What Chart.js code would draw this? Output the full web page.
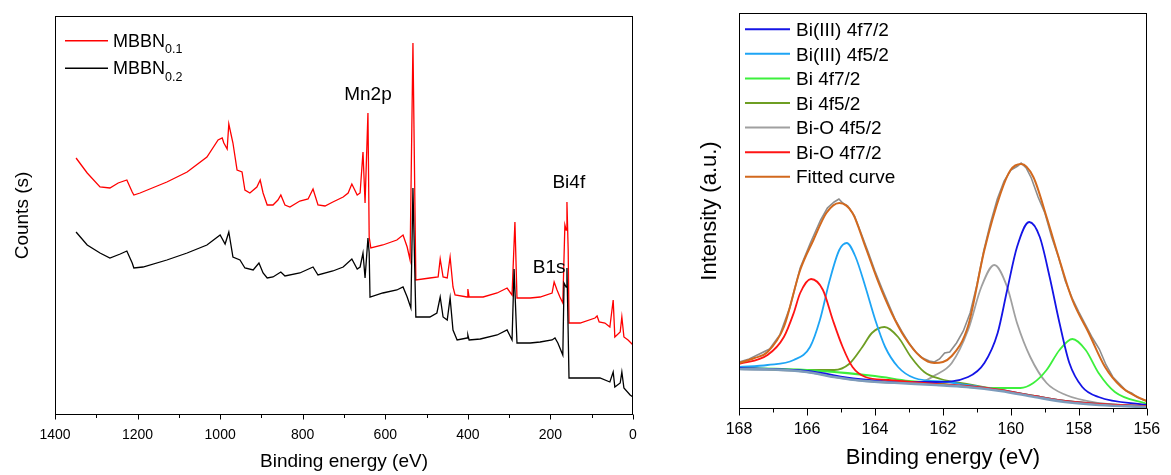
<!DOCTYPE html>
<html>
<head>
<meta charset="utf-8">
<script src="https://cdn.jsdelivr.net/npm/chart.js@4.4.1/dist/chart.umd.min.js"></script>
<style>
html,body{margin:0;padding:0;background:#fff;}
#wrap{position:relative;width:1171px;height:475px;overflow:hidden;}
#survey{position:absolute;left:0;top:0;}
#bi4f{position:absolute;left:660px;top:0;}
</style>
</head>
<body>
<div id="wrap">
  <canvas id="survey" width="660" height="475"></canvas>
  <canvas id="bi4f" width="511" height="475"></canvas>
</div>
<script>
// ── survey spectra (binding energy eV / counts, arbitrary units) ──
const e01=[1349,1322,1291,1267,1247,1226,1213,1209,1194,1129,1080,1032,1005,995,991,983,979,969,959,947,940,928,911,903,896,886,872,860,853,843,831,807,787,775,763,746,727,702,690,681,668,661,654,649,642,639,635,606,572,557,547,540,533,526,492,472,467,460,450,443,436,431,402,400,397,363,329,305,293,286,281,249,225,196,191,184,177,170,165,162,160,157,155,128,92,87,82,68,56,48,44,31,27,22,12,0];
const c01=[257,242,228,227,232,235,223,220,222,233,243,258,275,277,272,266,291,272,245,243,225,222,228,235,222,210,210,215,220,210,208,214,216,226,210,209,213,218,222,231,220,222,263,212,302,178,167,170,175,180,168,155,372,135,137,138,156,138,137,158,128,120,118,126,118,118,122,127,120,193,117,117,118,122,133,125,118,112,190,185,213,165,92,92,97,99,93,92,88,115,78,83,98,78,75,70];
const e02=[1349,1322,1291,1267,1242,1226,1213,1209,1187,1129,1080,1032,1000,988,979,969,952,940,920,906,896,886,872,853,843,807,775,763,727,702,681,668,661,654,649,642,639,637,606,572,557,547,538,533,526,492,475,467,460,450,443,436,426,402,400,397,370,329,305,293,288,281,249,225,196,189,182,170,167,162,160,157,155,111,80,56,48,44,31,27,22,7,0];
const c02=[183,170,162,157,161,164,152,147,148,155,162,170,180,171,183,158,155,147,145,152,142,137,138,143,139,142,148,140,144,148,156,146,148,162,137,177,162,118,122,125,128,118,107,227,98,98,102,118,98,95,117,85,75,77,80,75,76,80,85,75,146,72,72,73,75,77,72,60,132,128,147,82,37,37,37,33,43,28,32,43,27,20,18];
const sampleNames=['MBBN','MBBN'];
const sampleSubs=['0.1','0.2'];
const peakNames=['Mn2p','Bi4f','B1s'];
const peakE=[642,155.5,203];
const peakC=[320,232,147.6];

// ── Bi 4f high resolution (binding energy eV / intensity a.u.) ──
const rawE=[168,167.7,167.4,167.1,166.8,166.5,166.2,165.9,165.6,165.4,165.2,165.06,164.95,164.8,164.6,164.4,164.2,164.0,163.8,163.6,163.4,163.2,163.0,162.8,162.6,162.4,162.25,162.1,161.95,161.8,161.6,161.4,161.2,161.0,160.8,160.6,160.4,160.2,160.0,159.8,159.7,159.55,159.4,159.2,159.0,158.8,158.6,158.4,158.2,158.0,157.8,157.6,157.4,157.2,157.0,156.8,156.6,156.45,156.3,156.1,156];
const rawI=[47,50,55,60,74,102,141,166,189,201,207,210,206,203,193,175,157,138,121,105,89,77,66,57,51,48,47,50,56,57,66,78,96,124,158,186,210,228,239,243,246,241,231,212,196,172,152,128,111,97,84,71,60,44,32,25,18,16,12,9,8];
const bgE=[168,167,166,165.2,164.3,163.3,162.2,161.3,160.3,159.3,158.4,157.4,156];
const bgI=[40,39.5,37,32,28,26,24,22,18,12,7,4,2];
const bi3f72E=[168,166,164.5,163,162.22,161.26,160.78,160.39,160.11,159.82,159.46,159.15,158.86,158.57,158.28,157.9,157.42,156];
const bi3f72I=[41,38,30,27,27,32,46,76,119,162,187,172,132,86,46,22,12,4];
const bi3f52E=[168,167.16,166.39,165.91,165.62,165.33,165.05,164.83,164.57,164.28,163.99,163.7,163.32,162.84,161.88,161.3,160.3,159.3,158.4,157.4,156];
const bi3f52I=[42,44,49,62,89,129,159,166,152,122,89,62,42,31,27,24,19,13,8,5,3];
const bi0f72E=[168,166,164,163,162.22,161.26,160.3,159.72,159.34,158.95,158.57,158.19,157.8,157.42,156.94,156];
const bi0f72I=[41,39,33,28,26,22,21,21,26,39,59,70,59,36,17,5];
const bi0f52E=[168,166.2,165.2,164.76,164.37,164.09,163.72,163.32,162.94,162.55,162.07,161.3,160.3,159.3,158.4,157.4,156];
const bi0f52I=[41,39,39,45,62,76,82,72,52,37,30,25,19,13,8,5,3];
const biOf52E=[168,166,165,164,163.3,162.75,162.22,161.74,161.26,160.87,160.49,160.11,159.82,159.43,158.95,158.38,157.42,156];
const biOf52I=[40,37,31,27,26,26,34,46,79,122,144,122,86,52,26,14,6,2];
const biOf72E=[168,167.16,166.68,166.39,166.2,165.88,165.53,165.24,164.95,164.66,164.28,163.61,162.94,162.2,161.3,160.3,159.3,158.4,157.4,156];
const biOf72I=[45,54,72,96,116,130,119,89,62,42,32,29,27,25,23,19,13,8,5,3];
const fitE=[168,167.54,167.16,166.68,166.2,165.81,165.43,165.05,164.66,164.28,163.89,163.51,163.13,162.65,162.26,161.74,161.26,160.78,160.3,160.01,159.7,159.34,158.95,158.57,158.19,157.71,157.23,156.75,156.08,156];
const fitI=[46,51,57,82,139,169,196,206,196,162,126,96,72,52,46,53,83,159,216,239,245,232,192,149,109,76,42,22,9,8];

Chart.defaults.font.family="'Liberation Sans', Arial, sans-serif";
Chart.defaults.color='#000';

const pts=(xs,ys)=>xs.map((x,i)=>({x:x,y:ys[i]}));

// frame round the plot + major/minor tick marks on the x axis
const frameTicks={
  id:'frameTicks',
  afterDraw(chart,args,o){
    const {ctx,chartArea:a}=chart;const xs=chart.scales.x;
    ctx.save();
    ctx.strokeStyle='#000';ctx.lineWidth=1;
    const l=Math.round(a.left)+0.5,t=Math.round(a.top)+0.5,r=Math.round(a.right)-0.5,b=Math.round(a.bottom)-0.5;
    ctx.strokeRect(l,t,r-l,b-t);
    xs.ticks.forEach(tk=>{
      const px=Math.round(xs.getPixelForValue(tk.value))+0.5;
      const len=Math.abs(tk.value%o.majorStep)<1e-6?o.major:o.minor;
      ctx.beginPath();ctx.moveTo(px,b);ctx.lineTo(px,b+len);ctx.stroke();
    });
    ctx.restore();
  }
};

// legend drawn inside the plot area
const innerLegend={
  id:'innerLegend',
  afterDraw(chart,args,o){
    const {ctx,chartArea:a}=chart;
    ctx.save();
    chart.data.datasets.filter(d=>d.legendText).forEach((d,i)=>{
      const y=a.top+o.top+i*o.step;
      const x0=a.left+o.left;
      ctx.strokeStyle=d.borderColor;ctx.lineWidth=o.lineWidth;
      ctx.beginPath();ctx.moveTo(x0,y);ctx.lineTo(x0+o.len,y);ctx.stroke();
      ctx.fillStyle='#000';ctx.textBaseline='alphabetic';ctx.textAlign='left';
      ctx.font=o.font;
      const tx=x0+o.len+o.gap;
      ctx.fillText(d.legendText,tx,y+o.base);
      if(d.legendSub){
        const w=ctx.measureText(d.legendText).width;
        ctx.font=o.subFont;
        ctx.fillText(d.legendSub,tx+w,y+o.base+o.subDrop);
      }
    });
    ctx.restore();
  }
};

const peakText={
  id:'peakText',
  afterDatasetsDraw(chart){
    const {ctx}=chart;const xs=chart.scales.x,ys=chart.scales.y;
    ctx.save();
    ctx.fillStyle='#000';ctx.font="19px 'Liberation Sans', Arial, sans-serif";
    ctx.textAlign='center';ctx.textBaseline='middle';
    peakNames.forEach((n,i)=>ctx.fillText(n,xs.getPixelForValue(peakE[i]),ys.getPixelForValue(peakC[i])));
    ctx.restore();
  }
};

// ══════════ survey ══════════
new Chart(document.getElementById('survey'),{
  type:'line',
  data:{datasets:[
    {data:pts(e01,c01),borderColor:'#ff0000',borderWidth:1.3,pointRadius:0,tension:0,order:2,legendText:sampleNames[0],legendSub:sampleSubs[0]},
    {data:pts(e02,c02),borderColor:'#000000',borderWidth:1.3,pointRadius:0,tension:0,order:1,legendText:sampleNames[1],legendSub:sampleSubs[1]},
  ]},
  options:{
    responsive:false,animation:false,devicePixelRatio:1,
    layout:{padding:{left:0,top:16,right:27,bottom:0}},
    plugins:{legend:{display:false},tooltip:{enabled:false},
      frameTicks:{majorStep:200,major:5,minor:3.5},
      innerLegend:{left:10,top:24.7,step:27.5,len:43,gap:5,lineWidth:1.5,base:6,subDrop:6.5,font:"18px 'Liberation Sans', Arial, sans-serif",subFont:"12.5px 'Liberation Sans', Arial, sans-serif"}},
    scales:{
      x:{type:'linear',min:0,max:1400,reverse:true,
        grid:{display:false,drawTicks:false},border:{display:false},
        ticks:{stepSize:100,autoSkip:false,maxRotation:0,padding:11.6,font:{size:14},callback:v=>v%200===0?v:''},
        title:{display:true,text:'Binding energy (eV)',font:{size:19},padding:{top:0,bottom:2}},
        afterFit:s=>{s.height=60;}},
      y:{min:0,max:399,
        grid:{display:false,drawTicks:false},border:{display:false},ticks:{display:false},
        title:{display:true,text:'Counts (s)',font:{size:19},padding:{top:10.9,bottom:0}},
        afterFit:s=>{s.width=55;}}
    }
  },
  plugins:[frameTicks,innerLegend,peakText]
});

// ══════════ Bi 4f ══════════
const comp=(xs,ys,color,label,ord)=>({data:pts(xs,ys),borderColor:color,borderWidth:1.8,pointRadius:0,cubicInterpolationMode:'monotone',order:ord,legendText:label});
new Chart(document.getElementById('bi4f'),{
  type:'line',
  data:{datasets:[
    comp(bi3f72E,bi3f72I,'#1414e6','Bi(III) 4f7/2',4),
    comp(bi3f52E,bi3f52I,'#1ea5f5','Bi(III) 4f5/2',5),
    comp(bi0f72E,bi0f72I,'#3cf03c','Bi 4f7/2',6),
    comp(bi0f52E,bi0f52I,'#6e9e23','Bi 4f5/2',7),
    comp(biOf52E,biOf52I,'#a0a0a0','Bi-O 4f5/2',8),
    comp(biOf72E,biOf72I,'#ff1414','Bi-O 4f7/2',3),
    {data:pts(fitE,fitI),borderColor:'#d2691e',borderWidth:2,pointRadius:0,cubicInterpolationMode:'monotone',order:0,legendText:'Fitted curve'},
    {data:pts(rawE,rawI),borderColor:'#8c8c8c',borderWidth:1.6,pointRadius:0,tension:0,order:2},
    {data:pts(bgE,bgI),borderColor:'#7d9cbc',borderWidth:2.6,pointRadius:0,cubicInterpolationMode:'monotone',order:1},
  ]},
  options:{
    responsive:false,animation:false,devicePixelRatio:1,
    layout:{padding:{left:0,top:13,right:15,bottom:0}},
    plugins:{legend:{display:false},tooltip:{enabled:false},
      frameTicks:{majorStep:2,major:7,minor:4},
      innerLegend:{left:6,top:16.3,step:24.57,len:45,gap:6,lineWidth:2,base:6.7,font:"19px 'Liberation Sans', Arial, sans-serif"}},
    scales:{
      x:{type:'linear',min:156,max:168,reverse:true,
        grid:{display:false,drawTicks:false},border:{display:false},
        ticks:{stepSize:1,autoSkip:false,maxRotation:0,padding:10.8,font:{size:16},callback:v=>v%2===0?v:''},
        title:{display:true,text:'Binding energy (eV)',font:{size:22},padding:{top:0,bottom:3.8}},
        afterFit:s=>{s.height=66;}},
      y:{min:0,max:396,
        grid:{display:false,drawTicks:false},border:{display:false},ticks:{display:false},
        title:{display:true,text:'Intensity (a.u.)',font:{size:22},padding:{top:36.8,bottom:0}},
        afterFit:s=>{s.width=79;}}
    }
  },
  plugins:[frameTicks,innerLegend]
});
</script>
</body>
</html>
